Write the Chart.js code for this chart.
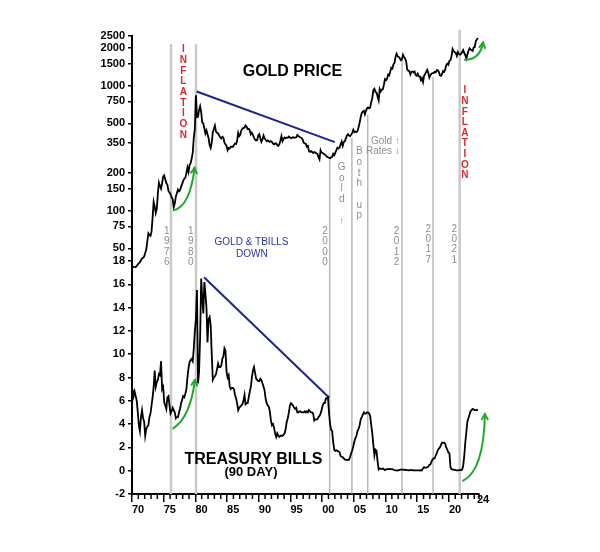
<!DOCTYPE html>
<html>
<head>
<meta charset="utf-8">
<script src="https://cdn.jsdelivr.net/npm/chart.js@4.4.1/dist/chart.umd.min.js"></script>
<style>
html,body{margin:0;padding:0;background:#fff;}
#wrap{width:600px;height:552px;position:relative;}
canvas{display:block;}
</style>
</head>
<body>
<div id="wrap"><canvas id="c" width="600" height="552"></canvas></div>
<script>
// ---------- DATA ----------
const dataYears = [1970,1971,1972,1973,1974,1975,1976,1977,1978,1979,1980,1981,1982,1983,1984,1985,1986,1987,1988,1989,
  1990,1991,1992,1993,1994,1995,1996,1997,1998,1999,2000,2001,2002,2003,2004,2005,2006,2007,2008,2009,
  2010,2011,2012,2013,2014,2015,2016,2017,2018,2019,2020,2021,2022,2023,2024];

// Gold price, US$/oz, six readings per year (bimonthly)
const goldPrice = [
  [35.2,35.6,35.5,35.4,36.2,37.2],
  [38.0,38.8,40.2,41.5,42.0,43.0],
  [46,49,57,66,64,63],
  [68,88,118,108,96,104],
  [138,168,158,150,166,188],
  [192,178,166,162,144,140],
  [136,128,124,107,114,130],
  [138,148,143,146,156,164],
  [174,180,184,200,222,204],
  [232,240,262,292,385,452],
  [840,560,565,640,685,615],
  [510,500,455,415,440,410],
  [380,335,318,350,425,450],
  [480,430,420,415,400,385],
  [378,390,385,350,340,330],
  [305,318,315,325,325,325],
  [335,345,342,362,420,395],
  [405,440,452,460,462,482],
  [470,450,452,440,408,420],
  [405,385,370,365,368,400],
  [410,378,355,372,400,380],
  [370,360,365,360,355,360],
  [355,345,340,345,345,335],
  [330,340,365,395,360,375],
  [385,380,385,385,392,385],
  [380,385,387,385,385,387],
  [405,396,390,385,382,372],
  [350,346,344,325,330,300],
  [296,300,295,290,295,292],
  [288,285,270,258,305,292],
  [290,285,282,276,272,268],
  [265,262,268,270,285,278],
  [292,305,320,315,320,340],
  [358,330,355,360,380,400],
  [410,400,395,405,420,445],
  [425,430,425,435,465,505],
  [560,605,620,630,590,630],
  [660,670,660,670,740,800],
  [925,945,890,880,820,765],
  [940,900,930,940,1020,1130],
  [1110,1140,1230,1210,1300,1390],
  [1370,1480,1520,1700,1800,1720],
  [1700,1660,1600,1620,1770,1700],
  [1650,1580,1350,1320,1310,1230],
  [1290,1300,1280,1300,1220,1200],
  [1250,1190,1190,1110,1150,1070],
  [1200,1240,1290,1340,1270,1160],
  [1210,1250,1260,1260,1290,1280],
  [1330,1330,1290,1210,1200,1240],
  [1310,1290,1350,1460,1500,1470],
  [1580,1600,1720,1970,1900,1850],
  [1830,1730,1860,1790,1770,1800],
  [1850,1930,1830,1760,1650,1780],
  [1900,1990,1950,1930,1900,2030],
  [2040,2280,2340,2410]
];

// 90-day Treasury bill yield, %, six readings per year (bimonthly)
const tbillYield = [
  [7.0,6.4,6.8,6.4,6.0,5.0],
  [3.9,3.4,4.6,5.2,4.5,4.2],
  [3.0,3.6,3.8,3.9,4.6,4.9],
  [5.6,6.3,7.2,8.6,7.2,7.6],
  [7.8,8.3,8.2,9.4,7.0,7.2],
  [5.9,5.6,5.3,6.3,6.4,5.6],
  [4.9,5.1,5.4,5.2,5.0,4.5],
  [4.6,4.6,5.0,5.3,5.8,6.1],
  [6.4,6.3,6.6,7.0,8.0,8.8],
  [9.3,9.5,9.6,9.4,10.5,12.0],
  [13.0,15.5,7.5,8.5,11.5,16.5],
  [14.8,13.5,16.2,15.2,14.0,11.0],
  [13.0,13.2,12.5,10.0,7.8,8.0],
  [8.1,8.3,8.7,9.2,8.9,8.9],
  [9.0,9.6,9.8,10.5,10.3,8.5],
  [8.0,8.2,7.2,7.0,7.1,7.1],
  [7.0,6.5,6.2,5.8,5.2,5.4],
  [5.5,5.6,5.7,6.0,6.5,5.7],
  [5.8,5.8,6.3,6.8,7.2,8.0],
  [8.6,8.9,8.4,7.9,7.8,7.7],
  [7.7,7.9,7.8,7.5,7.2,6.9],
  [6.2,5.8,5.6,5.5,5.1,4.3],
  [3.9,4.0,3.7,3.2,2.9,3.2],
  [3.0,2.9,3.0,3.0,3.0,3.1],
  [3.2,3.6,4.2,4.5,5.0,5.6],
  [5.8,5.7,5.6,5.4,5.3,5.4],
  [5.0,5.0,5.1,5.1,5.0,5.0],
  [5.0,5.1,5.0,5.1,5.0,5.2],
  [5.1,5.0,5.0,4.9,4.3,4.4],
  [4.4,4.4,4.6,4.7,4.9,5.2],
  [5.6,5.8,5.8,6.2,6.2,6.3],
  [5.0,4.0,3.5,3.4,2.4,1.8],
  [1.7,1.75,1.7,1.65,1.6,1.25],
  [1.2,1.15,1.05,0.95,0.95,0.92],
  [0.93,0.95,1.2,1.5,1.75,2.1],
  [2.5,2.8,3.0,3.4,3.6,3.9],
  [4.4,4.6,4.8,5.0,4.9,4.9],
  [5.0,5.0,4.9,4.7,3.9,3.2],
  [2.2,1.3,1.8,1.7,0.8,0.1],
  [0.2,0.15,0.15,0.18,0.12,0.05],
  [0.10,0.15,0.13,0.15,0.14,0.13],
  [0.14,0.08,0.05,0.03,0.02,0.01],
  [0.05,0.08,0.09,0.10,0.10,0.07],
  [0.08,0.06,0.05,0.04,0.03,0.07],
  [0.05,0.04,0.04,0.03,0.02,0.03],
  [0.03,0.03,0.02,0.05,0.02,0.2],
  [0.3,0.25,0.27,0.3,0.33,0.5],
  [0.55,0.78,0.95,1.05,1.05,1.3],
  [1.5,1.75,1.9,2.0,2.2,2.4],
  [2.4,2.4,2.3,2.0,1.8,1.55],
  [1.5,0.3,0.13,0.1,0.1,0.08],
  [0.05,0.03,0.03,0.05,0.05,0.05],
  [0.1,0.4,1.2,2.4,3.3,4.2],
  [4.5,4.8,5.1,5.2,5.3,5.25],
  [5.2,5.2,5.2,5.25]
];

// Axis ticks
const xMajorYears = [1970,1975,1980,1985,1990,1995,2000,2005,2010,2015,2020];
const xEndYear = 2024.75;
const goldTicks = [50,75,100,150,200,350,500,750,1000,1500,2000,2500];
const billTicks = [-2,0,2,4,6,8,10,12,14,16,18];

// Trend lines (year, value)
const goldTrendYears = [1980.2, 2002.0];
const goldTrendValues = [900, 354];
const billTrendYears = [1981.36, 2001.12];
const billTrendValues = [16.6, 6.27];

// Reference (event) vertical lines: year and gold level where each starts
const refLineYears = [1976.15, 1980.1, 2001.2, 2004.7, 2007.2, 2012.6, 2017.5, 2021.7];
const refLineTopGold = [2150, 2150, 256, 384, 586, 1614, 1180, 2800];

// ---------- BUILD ----------
function toPoints(rows){
  const pts = [];
  rows.forEach((row, i) => {
    const n = 6;
    row.forEach((v, j) => pts.push({x: dataYears[i] + (j + 0.5) / n, y: v}));
  });
  return pts;
}
const goldPts = toPoints(goldPrice);
const billPts = toPoints(tbillYield);
const goldTrendPts = goldTrendYears.map((x, i) => ({x, y: goldTrendValues[i]}));
const billTrendPts = billTrendYears.map((x, i) => ({x, y: billTrendValues[i]}));

const FONT = '"Liberation Sans", Arial, Helvetica, sans-serif';
const GOLD_MAX = 2500;
const GOLD_MIN = 2500 / Math.pow(10, 1.8);

const annotPlugin = {
  id: 'annot',
  beforeDatasetsDraw(chart) {
    const {ctx} = chart;
    const x = chart.scales.x, yG = chart.scales.yGold, yB = chart.scales.yBill;
    const bottom = yB.bottom;
    ctx.save();
    refLineYears.forEach((yr, i) => {
      const light = (i < 2 || i === refLineYears.length - 1);
      ctx.strokeStyle = light ? '#c9c9c9' : '#a8a8a8';
      ctx.lineWidth = light ? 2.5 : 1.2;
      const px = x.getPixelForValue(yr);
      ctx.beginPath();
      ctx.moveTo(px, yG.getPixelForValue(refLineTopGold[i]));
      ctx.lineTo(px, bottom);
      ctx.stroke();
    });
    ctx.restore();
  },
  afterDatasetsDraw(chart) {
    const {ctx} = chart;
    const x = chart.scales.x, yG = chart.scales.yGold, yB = chart.scales.yBill;
    const PG = (yr, v) => ({x: x.getPixelForValue(yr), y: yG.getPixelForValue(v)});
    const PB = (yr, v) => ({x: x.getPixelForValue(yr), y: yB.getPixelForValue(v)});
    ctx.save();

    // minor x ticks
    ctx.strokeStyle = '#000';
    ctx.lineWidth = 1.5;
    const axisY = x.top;
    for (let yr = 1971; yr <= 2024; yr++) {
      if (yr % 5 === 0) continue;
      const px = x.getPixelForValue(yr);
      ctx.beginPath(); ctx.moveTo(px, axisY); ctx.lineTo(px, axisY + 5); ctx.stroke();
    }
    const pe = x.getPixelForValue(xEndYear);
    ctx.beginPath(); ctx.moveTo(pe, axisY); ctx.lineTo(pe, axisY + 5); ctx.stroke();
    ctx.fillStyle = '#000';
    ctx.font = 'bold 11px ' + FONT;
    ctx.textAlign = 'left'; ctx.textBaseline = 'middle';
    ctx.fillText('24', pe - 2, axisY + 6);

    // text helpers
    function txt(s, p, font, color, align) {
      ctx.font = font; ctx.fillStyle = color;
      ctx.textAlign = align || 'center'; ctx.textBaseline = 'middle';
      ctx.fillText(s, p.x, p.y);
    }
    function vtxt(s, p, step, font, color) {
      ctx.font = font; ctx.fillStyle = color;
      ctx.textAlign = 'center'; ctx.textBaseline = 'middle';
      [...s].forEach((ch, i) => { if (ch !== ' ') ctx.fillText(ch, p.x, p.y + i * step); });
    }

    // titles
    txt('GOLD PRICE', PG(1995.32, 1301), 'bold 16px ' + FONT, '#000');
    txt('TREASURY BILLS', PB(1989.16, 0.92), 'bold 16px ' + FONT, '#000');
    txt('(90 DAY)', PB(1988.77, -0.14), 'bold 13px ' + FONT, '#000');
    txt('GOLD & TBILLS', PG(1988.85, 55.5), '10px ' + FONT, '#2a34a0');
    txt('DOWN', PG(1988.9, 44.5), '10px ' + FONT, '#2a34a0');

    // vertical words
    const red = '#e3262d', gray = '#8e8e8e';
    vtxt('INFLATION', PG(1978.09, 1941), 10.66, 'bold 10px ' + FONT, red);
    vtxt('INFLATION', PG(2022.52, 912), 10.6, 'bold 10px ' + FONT, red);
    vtxt('1976', PG(1975.47, 68.3), 10.3, '10px ' + FONT, gray);
    vtxt('1980', PG(1979.26, 68.3), 10.3, '10px ' + FONT, gray);
    vtxt('2000', PG(2000.44, 68.3), 10.3, '10px ' + FONT, gray);
    vtxt('2012', PG(2011.75, 68.3), 10.3, '10px ' + FONT, gray);
    vtxt('2017', PG(2016.73, 71.4), 10.3, '10px ' + FONT, gray);
    vtxt('2021', PG(2020.84, 71.4), 10.3, '10px ' + FONT, gray);
    vtxt('Gold \u2191', PG(2003.08, 223.7), 10.85, '10px ' + FONT, gray);
    vtxt('Both up', PG(2005.85, 298), 10.7, '10px ' + FONT, gray);
    txt('Gold \u2191', PG(2012.27, 363), '10px ' + FONT, gray, 'right');
    txt('Rates \u2193', PG(2012.27, 298), '10px ' + FONT, gray, 'right');

    // green arrows
    function arrow(p0, c, p1) {
      ctx.strokeStyle = '#1fa82a'; ctx.lineWidth = 2; ctx.lineCap = 'round';
      ctx.beginPath(); ctx.moveTo(p0.x, p0.y); ctx.quadraticCurveTo(c.x, c.y, p1.x, p1.y); ctx.stroke();
      const ang = Math.atan2(p1.y - c.y, p1.x - c.x);
      const L = 6;
      ctx.beginPath();
      ctx.moveTo(p1.x - L * Math.cos(ang - 0.5), p1.y - L * Math.sin(ang - 0.5));
      ctx.lineTo(p1.x, p1.y);
      ctx.lineTo(p1.x - L * Math.cos(ang + 0.5), p1.y - L * Math.sin(ang + 0.5));
      ctx.stroke();
    }
    arrow(PG(1976.58, 100.9), PG(1979.15, 107.6), PG(1979.88, 220.8));
    arrow(PB(1976.51, 3.64), PB(1979.15, 4.52), PB(1979.94, 7.79));
    arrow(PG(2022.52, 1615), PG(2024.89, 1615), PG(2025.41, 2220));
    arrow(PB(2022.26, -0.86), PB(2025.52, 0.06), PB(2025.68, 4.87));

    ctx.restore();
  }
};

new Chart(document.getElementById('c'), {
  type: 'line',
  data: {
    datasets: [
      {label: 'Gold', data: goldPts, yAxisID: 'yGold', borderColor: '#000', borderWidth: 1.8,
       pointRadius: 0, tension: 0, clip: false},
      {label: 'T-Bills', data: billPts, yAxisID: 'yBill', borderColor: '#000', borderWidth: 1.8,
       pointRadius: 0, tension: 0, clip: false},
      {label: 'Gold trend', data: goldTrendPts, yAxisID: 'yGold', borderColor: '#1c2490', borderWidth: 2,
       pointRadius: 0, clip: false},
      {label: 'T-Bill trend', data: billTrendPts, yAxisID: 'yBill', borderColor: '#1c2490', borderWidth: 2,
       pointRadius: 0, clip: false}
    ]
  },
  options: {
    responsive: false,
    animation: false,
    devicePixelRatio: 1,
    layout: {padding: {left: 0, top: 36, right: 121, bottom: 0}},
    plugins: {legend: {display: false}, tooltip: {enabled: false}},
    scales: {
      x: {
        type: 'linear', position: 'bottom', min: 1970, max: xEndYear,
        afterBuildTicks(s) { s.ticks = xMajorYears.map(v => ({value: v})); },
        afterFit(s) { s.height = 58; },
        grid: {drawOnChartArea: false, drawTicks: true, tickLength: 8, color: '#000', lineWidth: 1.5},
        border: {display: true, color: '#000', width: 2},
        ticks: {autoSkip: false, maxRotation: 0, align: 'start', padding: 1, color: '#000',
          font: {family: FONT, size: 11, weight: 'bold'},
          callback: v => String(v % 100).padStart(2, '0')}
      },
      yBill: {
        type: 'linear', position: 'left', stack: 'panels', stackWeight: 233, weight: 1,
        min: -2, max: 18,
        afterBuildTicks(s) { s.ticks = billTicks.map(v => ({value: v})); },
        afterFit(s) { s.width = 132; },
        grid: {drawOnChartArea: false, drawTicks: true, tickLength: 4, color: '#000', lineWidth: 1.5},
        border: {display: true, color: '#000', width: 2},
        ticks: {autoSkip: false, padding: 3, color: '#000', font: {family: FONT, size: 11, weight: 'bold'},
          callback: v => String(v)}
      },
      yGold: {
        type: 'logarithmic', position: 'left', stack: 'panels', stackWeight: 225, weight: 2,
        min: GOLD_MIN, max: GOLD_MAX,
        afterBuildTicks(s) { s.ticks = goldTicks.map(v => ({value: v})); },
        afterFit(s) { s.width = 132; },
        grid: {drawOnChartArea: false, drawTicks: true, tickLength: 4, color: '#000', lineWidth: 1.5},
        border: {display: true, color: '#000', width: 2},
        ticks: {autoSkip: false, padding: 3, color: '#000', font: {family: FONT, size: 11, weight: 'bold'},
          callback: v => String(v)}
      }
    }
  },
  plugins: [annotPlugin]
});
</script>
</body>
</html>
